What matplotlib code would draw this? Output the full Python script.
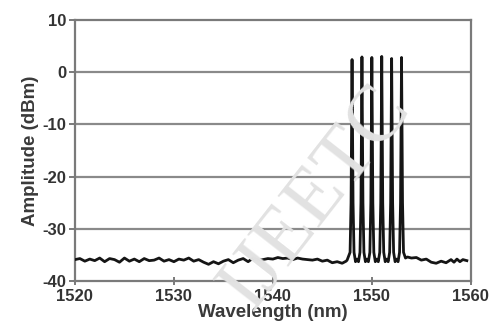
import matplotlib
matplotlib.use("Agg")
import matplotlib.pyplot as plt

# ---- data ----
floor_left_wl = [1520.0, 1520.5, 1521.0, 1521.5, 1522.0, 1522.5, 1523.0, 1523.5, 1524.0, 1524.5,
                 1525.0, 1525.5, 1526.0, 1526.5, 1527.0, 1527.5, 1528.0, 1528.5, 1529.0, 1529.5,
                 1530.0, 1530.5, 1531.0, 1531.5, 1532.0, 1532.5, 1533.0, 1533.5, 1534.0, 1534.5,
                 1535.0, 1535.5, 1536.0, 1536.5, 1537.0, 1537.5, 1538.0, 1538.5, 1539.0, 1539.5,
                 1540.0, 1540.5, 1541.0, 1541.5, 1542.0, 1542.5, 1543.0, 1543.5, 1544.0, 1544.5,
                 1545.0, 1545.5, 1546.0, 1546.5, 1547.0, 1547.4]
floor_left_db = [-35.9, -35.7, -36.2, -35.8, -36.1, -35.6, -36.3, -35.7, -35.9, -36.4,
                 -35.6, -36.2, -35.8, -36.3, -35.7, -36.1, -36.0, -35.6, -36.2, -35.9,
                 -36.3, -35.8, -36.0, -35.6, -36.2, -35.9, -36.4, -36.8, -36.3, -36.7,
                 -36.2, -35.9, -36.5, -36.0, -35.7, -36.3, -35.6, -36.0, -35.9, -35.7,
                 -35.8, -35.5, -35.7, -35.6, -35.9, -35.6, -35.8, -35.9, -36.0, -35.8,
                 -36.2, -36.0, -36.5, -36.3, -36.6, -36.2]

peak_wl = [1547.5, 1547.8, 1547.9, 1547.96, 1548.0, 1548.04, 1548.1, 1548.2, 1548.35, 1548.5,
           1548.65, 1548.8, 1548.9, 1548.96, 1549.0, 1549.04, 1549.1, 1549.2, 1549.35, 1549.5,
           1549.65, 1549.8, 1549.9, 1549.96, 1550.0, 1550.04, 1550.1, 1550.2, 1550.35, 1550.5,
           1550.65, 1550.8, 1550.9, 1550.96, 1551.0, 1551.04, 1551.1, 1551.2, 1551.35, 1551.5,
           1551.65, 1551.8, 1551.9, 1551.96, 1552.0, 1552.04, 1552.1, 1552.2, 1552.35, 1552.5,
           1552.65, 1552.8, 1552.9, 1552.96, 1553.0, 1553.04, 1553.1, 1553.2, 1553.4]
peak_db = [-36.0, -34.5, -25.0, -8.0, 2.4, -8.0, -25.0, -34.5, -36.3, -35.8,
           -36.3, -34.5, -25.0, -8.0, 2.9, -8.0, -25.0, -34.5, -36.3, -35.8,
           -36.3, -34.5, -25.0, -8.0, 2.8, -8.0, -25.0, -34.5, -36.3, -35.8,
           -36.3, -34.5, -25.0, -8.0, 3.0, -8.0, -25.0, -34.5, -36.3, -35.8,
           -36.3, -34.5, -25.0, -8.0, 2.6, -8.0, -25.0, -34.5, -36.3, -35.8,
           -36.3, -34.5, -25.0, -8.0, 2.8, -8.0, -25.0, -34.5, -35.6]

floor_right_wl = [1553.6, 1554.0, 1554.5, 1555.0, 1555.5, 1556.0, 1556.5, 1557.0, 1557.5, 1558.0,
                  1558.3, 1558.6, 1558.9, 1559.2, 1559.6]
floor_right_db = [-35.4, -35.6, -35.5, -36.0, -35.8, -36.4, -36.6, -36.2, -36.5, -35.9,
                  -36.4, -35.8, -36.3, -35.9, -36.1]

x_ticks = [1520, 1530, 1540, 1550, 1560]
y_ticks = [10, 0, -10, -20, -30, -40]

wl = floor_left_wl + peak_wl + floor_right_wl
db = floor_left_db + peak_db + floor_right_db

# ---- figure ----
fig = plt.figure(figsize=(4.93, 3.31), dpi=100)
ax = fig.add_axes([0.152, 0.151, 0.803, 0.789])

font = {"family": "Liberation Sans", "weight": "bold"}
grey = "#7a7a7a"

# faint watermark
fig.text(0.64, 0.40, "IJEETC", fontsize=58, family="Liberation Serif", color="#e2e2e2",
         rotation=52, ha="center", va="center", zorder=0)
ax.set_facecolor("none")

for y in y_ticks[1:-1]:
    ax.axhline(y, color="#8a8a8a", lw=1.6, zorder=1)

ax.plot(wl, db, color="#151515", lw=2.0, zorder=3, solid_joinstyle="round")

ax.set_xlim(1520, 1560)
ax.set_ylim(-40, 10)
ax.set_xticks(x_ticks)
ax.set_yticks(y_ticks)
ax.set_xticklabels([str(t) for t in x_ticks], fontdict=font, fontsize=12, color="#333333")
ax.set_yticklabels([str(t) for t in y_ticks], fontdict=font, fontsize=12, color="#333333")
ax.tick_params(axis="both", colors=grey, width=1.4, length=4, labelcolor="#333333", pad=1)
ax.tick_params(axis="x", direction="inout", length=6, pad=3)
ax.tick_params(axis="y", pad=2)

for s in ax.spines.values():
    s.set_color(grey)
    s.set_linewidth(1.6)

ax.set_xlabel("Wavelength (nm)", fontdict=font, fontsize=13.5, color="#3a3a3a", labelpad=0)
ax.set_ylabel("Amplitude (dBm)", fontdict=font, fontsize=13.5, color="#3a3a3a", labelpad=3)

fig.savefig("out.png", dpi=100)
